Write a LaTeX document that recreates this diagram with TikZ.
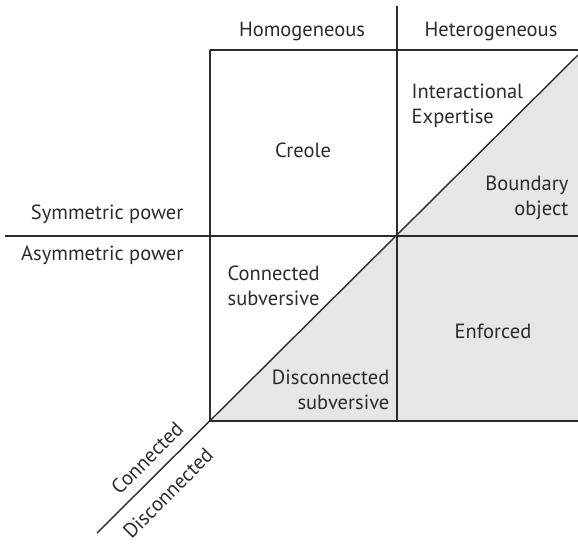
\documentclass[tikz,border=0pt]{standalone}
\usepackage{fontspec}
\setmainfont{PT Sans}
\usetikzlibrary{positioning}
\definecolor{cellgray}{HTML}{E6E6E6}
\definecolor{ink}{HTML}{2B2B2B}

\begin{document}
\begin{tikzpicture}[x=1pt,y=-1pt,line width=1.4pt,draw=ink,
  lbl/.style={font=\fontsize{20.5}{24.5}\selectfont,text=ink,inner sep=0pt}]
\useasboundingbox (0,0) rectangle (578,544);
% grid corners
\coordinate (tl) at (210,50);
\coordinate (tr) at (578,50);
\coordinate (mt) at (397,6);
\coordinate (c) at (397,236);
\coordinate (ml) at (5,236);
\coordinate (mr) at (578,236);
\coordinate (bl) at (210,421);
\coordinate (bm) at (397,421);
\coordinate (br) at (578,421);
\coordinate (de) at (97,533);
\coordinate (dt) at (578,55);
% shaded part
\fill[cellgray] (c) -- (dt) -- (br) -- (bl) -- cycle;
\draw (tl)--(tr);
\draw (tl)--(bl);
\draw (mt)--(bm);
\draw (ml)--(mr);
\draw (bl)--(br);
\draw (de)--(dt);
% labels
\node[lbl] (homog) at (302,31){Homogeneous};
\node[lbl] (heterog) at (491,31){Heterogeneous};
\node[lbl,anchor=east] (sym) at (184,214){Symmetric power};
\node[lbl,anchor=east] (asym) at (184,255){Asymmetric power};
\node[lbl] (creole) at (303,150){Creole};
\node[lbl,anchor=west,align=left] (inter) at (411,106){Interactional\\Expertise};
\node[lbl,anchor=east,align=right] (bound) at (569,198){Boundary\\object};
\node[lbl,anchor=west,align=left] (connsub) at (227,286){Connected\\subversive};
\node[lbl,anchor=east,align=right] (disconsub) at (390,390){Disconnected\\subversive};
\node[lbl] (enf) at (493,331){Enforced};
\node[lbl,rotate=45] (conn) at (147,458){Connected};
\node[lbl,rotate=45] (disconn) at (168,493){Disconnected};
\end{tikzpicture}
\end{document}
